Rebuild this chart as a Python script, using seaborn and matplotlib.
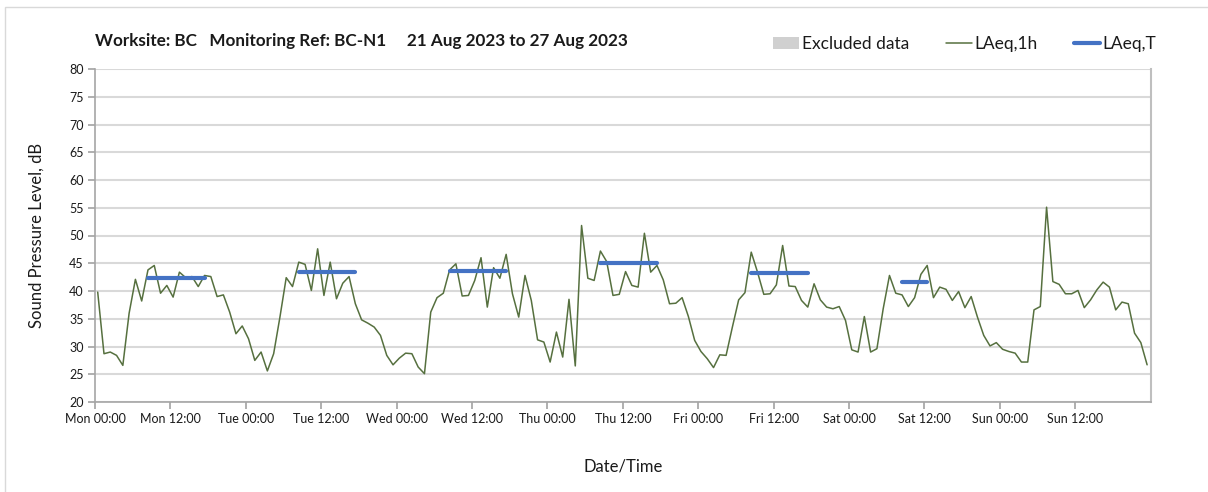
import numpy as np
import pandas as pd
import matplotlib
matplotlib.use("Agg")
import matplotlib.pyplot as plt
from matplotlib.patches import Patch, Rectangle
from matplotlib.lines import Line2D
import seaborn as sns

# ---- data ----
laeq_1h = [
    39.8, 28.7, 29.0, 28.4, 26.6, 36.0, 42.1, 38.2, 43.8, 44.6, 39.6, 41.0,
    38.9, 43.4, 42.4, 42.6, 40.8, 42.8, 42.6, 39.0, 39.3, 36.2, 32.3, 33.7,
    31.4, 27.5, 29.0, 25.6, 28.7, 35.3, 42.4, 40.8, 45.2, 44.8, 40.1, 47.6,
    39.2, 45.2, 38.6, 41.4, 42.6, 37.7, 34.8, 34.2, 33.5, 32.0, 28.4, 26.7,
    27.9, 28.8, 28.7, 26.3, 25.1, 36.2, 38.8, 39.6, 43.8, 44.9, 39.1, 39.2,
    41.9, 46.0, 37.1, 44.2, 42.3, 46.6, 39.5, 35.3, 42.8, 38.3, 31.2, 30.8,
    27.2, 32.6, 28.1, 38.5, 26.5, 51.8, 42.3, 41.9, 47.2, 45.3, 39.2, 39.4,
    43.5, 41.0, 40.7, 50.4, 43.4, 44.6, 42.0, 37.7, 37.8, 38.8, 35.4, 31.1,
    29.1, 27.8, 26.2, 28.5, 28.4, 33.5, 38.4, 39.7, 47.0, 43.4, 39.4, 39.5,
    41.1, 48.2, 40.9, 40.8, 38.3, 37.1, 41.3, 38.4, 37.1, 36.8, 37.2, 34.7,
    29.4, 29.0, 35.4, 29.0, 29.6, 36.8, 42.8, 39.6, 39.3, 37.2, 38.8, 43.0,
    44.6, 38.8, 40.7, 40.3, 38.3, 39.9, 37.0, 39.0, 35.3, 32.0, 30.1, 30.7,
    29.5, 29.1, 28.8, 27.2, 27.2, 36.6, 37.2, 55.1, 41.7, 41.2, 39.5, 39.5,
    40.1, 37.0, 38.4, 40.2, 41.6, 40.7, 36.6, 38.0, 37.7, 32.4, 30.7, 26.7,
]
laeq_t_start = [8, 32, 56, 80, 104, 128]
laeq_t_end = [17, 41, 65, 89, 113, 132]
laeq_t_value = [42.3, 43.4, 43.6, 45.0, 43.2, 41.6]

day_names = ["Mon", "Tue", "Wed", "Thu", "Fri", "Sat", "Sun"]
tick_labels = [f"{d} {h}" for d in day_names for h in ("00:00", "12:00")]
y_ticks = list(range(20, 81, 5))

title = "Worksite: BC   Monitoring Ref: BC-N1     21 Aug 2023 to 27 Aug 2023"

# ---- style ----
sns.set_theme(style="white")
plt.rcParams["font.family"] = ["Lato", "DejaVu Sans"]

GREEN = "#56703f"
BLUE = "#4472c4"
GRID = "#d9d9d9"
AXIS = "#a6a6a6"
TEXT = "#1a1a1a"

fig = plt.figure(figsize=(12.08, 4.92), dpi=100)
W, H = 1208, 492
ax = fig.add_axes([95 / W, 1 - 402 / H, (1150.7 - 95) / W, (402 - 69) / H])

# outer chart border
fig.patches.append(Rectangle((5 / W, -0.1), 1.2, 1 - 7 / H + 0.1,
                             transform=fig.transFigure, fill=False,
                             edgecolor="#d9d9d9", linewidth=1.0, zorder=0))

offset = 0.43
df = pd.DataFrame({"hour": np.arange(len(laeq_1h)) + offset, "level": laeq_1h})
sns.lineplot(data=df, x="hour", y="level", ax=ax, color=GREEN, linewidth=1.1,
             zorder=3, legend=False)

for s, e, v in zip(laeq_t_start, laeq_t_end, laeq_t_value):
    seg = pd.DataFrame({"hour": [s + offset, e + offset], "level": [v, v]})
    sns.lineplot(data=seg, x="hour", y="level", ax=ax, color=BLUE,
                 linewidth=3.0, zorder=4, legend=False)

ax.set_xlim(0, 168)
ax.set_ylim(20, 80)
ax.set_xticks(np.arange(0, 168, 12))
ax.set_xticklabels(tick_labels)
ax.set_xticks(np.arange(0, 169, 24), minor=True)
ax.set_yticks(y_ticks)
ax.set_yticklabels([str(v) for v in y_ticks])

ax.yaxis.grid(True, color=GRID, linewidth=1.5)
ax.xaxis.grid(True, which="minor", color=GRID, linewidth=1.0)
ax.xaxis.grid(False, which="major")
ax.set_axisbelow(True)

for side in ["left", "bottom"]:
    ax.spines[side].set_color(AXIS)
    ax.spines[side].set_linewidth(1.2)
ax.spines["right"].set_color("#bfbfbf")
ax.spines["right"].set_linewidth(1.5)
ax.spines["top"].set_visible(False)

ax.tick_params(axis="x", which="major", direction="out", length=5, color=AXIS,
               labelsize=9, labelcolor=TEXT, pad=3, bottom=True)
ax.tick_params(axis="x", which="minor", length=0)
ax.tick_params(axis="y", direction="out", length=5, color=AXIS,
               labelsize=9, labelcolor=TEXT, pad=3, left=True)

ax.set_xlabel("Date/Time", fontsize=12, color=TEXT, labelpad=24)
ax.set_ylabel("Sound Pressure Level, dB", fontsize=12, color=TEXT, labelpad=18)

fig.text(95 / W, 1 - 41 / H, title, fontsize=12.3, fontweight="bold",
         color=TEXT, ha="left", va="center")

handles = [
    Patch(facecolor="#d0d0d0", edgecolor="none"),
    Line2D([0], [0], color=GREEN, linewidth=1.1),
    Line2D([0], [0], color=BLUE, linewidth=3.0),
]
labels = ["Excluded data", "LAeq,1h", "LAeq,T"]
fig.legend(handles, labels, loc="center right", bbox_to_anchor=(1172 / W, 1 - 44 / H),
           ncol=3, frameon=False, fontsize=12.5, handlelength=1.5,
           handletextpad=0.15, columnspacing=2.1, labelcolor=TEXT)

fig.savefig("out.png", dpi=100)
